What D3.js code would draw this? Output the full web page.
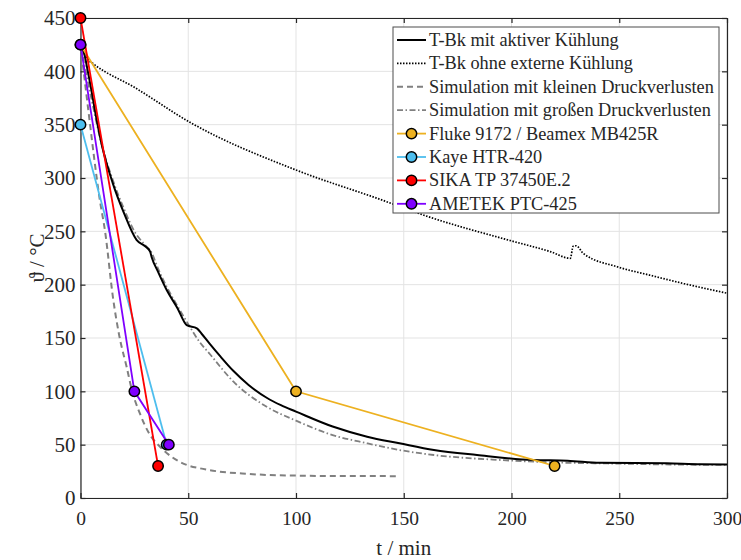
<!DOCTYPE html>
<html>
<head>
<meta charset="utf-8">
<script src="https://cdn.jsdelivr.net/npm/d3@7"></script>
<style>
  body { margin: 0; background: #fff; }
  svg text { font-family: "Liberation Serif", "DejaVu Serif", serif; fill: #262626; }
</style>
</head>
<body>
<svg id="chart" width="741" height="560"></svg>
<script>
// measured points (t in min, temperature in °C)
const flukeT = [0, 100, 220];
const flukeV = [425, 100, 30];
const kayeT = [0, 40];
const kayeV = [350, 50];
const sikaT = [0, 36];
const sikaV = [450, 30];
const ametekT = [0, 25, 41];
const ametekV = [425, 100, 50];

// T-Bk mit aktiver Kühlung
const activeT = [0, 1.5, 3.3, 5, 7, 10, 15, 20, 26, 30, 32.3, 33, 36, 40, 45, 49.3, 54, 56.2, 60, 65, 71, 78, 86.4, 93, 100, 117, 133, 148, 164, 184, 210, 226, 241, 272, 288, 300];
const activeV = [422, 418, 401, 383, 360, 330, 295, 268, 242, 236, 231, 226, 212, 195, 178, 162, 159, 154, 144.5, 132.5, 119, 106, 94, 87, 81, 67, 57.5, 51.3, 45, 40.3, 35.6, 35, 33, 32.5, 31.6, 31.5];

// T-Bk ohne externe Kühlung
const passiveT = [0, 3, 6, 25, 51, 100, 139, 161, 200, 218, 227.3, 228.6, 230, 233.3, 249, 264, 280, 300];
const passiveV = [424, 412, 407, 385, 352, 307.5, 280, 264, 241, 231, 224.7, 236, 236.5, 229.4, 216.8, 209, 201, 192];

// Simulation mit kleinen Druckverlusten
const simSmallT = [0, 3.6, 9, 11.4, 15.2, 18, 21.4, 24, 27.6, 32, 36.9, 42, 49.3, 55.5, 64.7, 75, 86.4, 100, 117, 148];
const simSmallV = [425, 364, 279, 250, 186, 152, 123, 100, 79, 60, 48, 39, 31, 27.8, 24.7, 23, 21.6, 21, 20.6, 20.5];

// Simulation mit großen Druckverlusten
const simLargeT = [0, 5, 10, 15, 20, 25, 30, 33, 36, 40, 45, 50, 55, 60, 71, 86, 100, 117, 133, 148, 164, 195, 226, 241, 270, 300];
const simLargeV = [425, 375, 330, 298, 272, 250, 237, 230, 215, 198, 180, 163, 147, 135, 109, 86, 72.5, 59, 51.3, 45, 40.3, 35.6, 33, 32.5, 31.5, 31];

const xTicks = [0, 50, 100, 150, 200, 250, 300];
const yTicks = [0, 50, 100, 150, 200, 250, 300, 350, 400, 450];

const legendLabels = [
  "T-Bk mit aktiver Kühlung",
  "T-Bk ohne externe Kühlung",
  "Simulation mit kleinen Druckverlusten",
  "Simulation mit großen Druckverlusten",
  "Fluke 9172 / Beamex MB425R",
  "Kaye HTR-420",
  "SIKA TP 37450E.2",
  "AMETEK PTC-425"
];

const svg = d3.select("#chart");
const margin = { left: 80.5, right: 14, top: 18, bottom: 62 };
const W = 741, H = 560;

const x = d3.scaleLinear().domain([0, 300]).range([margin.left, W - margin.right]);
const y = d3.scaleLinear().domain([0, 450]).range([H - margin.bottom, margin.top]);

const zip = (ts, vs) => ts.map((t, i) => [t, vs[i]]);

// grid
svg.append("g").selectAll("line").data(xTicks).join("line")
  .attr("x1", d => x(d)).attr("x2", d => x(d))
  .attr("y1", y(0)).attr("y2", y(450))
  .attr("stroke", "#e3e3e3").attr("stroke-width", 1);
svg.append("g").selectAll("line").data(yTicks).join("line")
  .attr("x1", x(0)).attr("x2", x(300))
  .attr("y1", d => y(d)).attr("y2", d => y(d))
  .attr("stroke", "#e3e3e3").attr("stroke-width", 1);

// axes (ticks inward, mirrored)
const tickLen = 5;
const axB = svg.append("g").attr("transform", `translate(0,${y(0)})`)
  .call(d3.axisBottom(x).tickValues(xTicks).tickSizeInner(-tickLen).tickSizeOuter(0).tickPadding(13));
const axT = svg.append("g").attr("transform", `translate(0,${y(450)})`)
  .call(d3.axisTop(x).tickValues(xTicks).tickSizeInner(-tickLen).tickSizeOuter(0).tickFormat(""));
const axL = svg.append("g").attr("transform", `translate(${x(0)},0)`)
  .call(d3.axisLeft(y).tickValues(yTicks).tickSizeInner(-tickLen).tickSizeOuter(0).tickPadding(5));
const axR = svg.append("g").attr("transform", `translate(${x(300)},0)`)
  .call(d3.axisRight(y).tickValues(yTicks).tickSizeInner(-tickLen).tickSizeOuter(0).tickFormat(""));
[axB, axT, axL, axR].forEach(g => {
  g.select(".domain").attr("stroke", "#262626").attr("stroke-width", 1.2);
  g.selectAll(".tick line").attr("stroke", "#262626").attr("stroke-width", 1.2);
  g.selectAll("text").attr("font-size", 20).attr("fill", "#262626");
});
axL.selectAll("text").attr("font-size", 21);
axB.selectAll("text").attr("font-size", 19.5);

// lines
const line = d3.line().x(d => x(d[0])).y(d => y(d[1]));
const smooth = d3.line().x(d => x(d[0])).y(d => y(d[1])).curve(d3.curveMonotoneX);

const plot = svg.append("g");
plot.append("path").datum(zip(simSmallT, simSmallV)).attr("d", smooth)
  .attr("fill", "none").attr("stroke", "#808080").attr("stroke-width", 2).attr("stroke-dasharray", "6 4");
plot.append("path").datum(zip(simLargeT, simLargeV)).attr("d", smooth)
  .attr("fill", "none").attr("stroke", "#808080").attr("stroke-width", 1.8).attr("stroke-dasharray", "6 2.5 1.5 2.5");
plot.append("path").datum(zip(passiveT, passiveV)).attr("d", smooth)
  .attr("fill", "none").attr("stroke", "#000").attr("stroke-width", 1.7).attr("stroke-dasharray", "1.5 1.5");
plot.append("path").datum(zip(activeT, activeV)).attr("d", smooth)
  .attr("fill", "none").attr("stroke", "#000").attr("stroke-width", 2);

const series = [
  { t: flukeT, v: flukeV, color: "#edb120" },
  { t: kayeT, v: kayeV, color: "#4dbeee" },
  { t: sikaT, v: sikaV, color: "#ff0000" },
  { t: ametekT, v: ametekV, color: "#7f00ff" }
];
series.forEach(s => {
  plot.append("path").datum(zip(s.t, s.v)).attr("d", line)
    .attr("fill", "none").attr("stroke", s.color).attr("stroke-width", 1.8);
});
series.forEach(s => {
  plot.append("g").selectAll("circle").data(zip(s.t, s.v)).join("circle")
    .attr("cx", d => x(d[0])).attr("cy", d => y(d[1])).attr("r", 5.2)
    .attr("fill", s.color).attr("stroke", "#000").attr("stroke-width", 1.5);
});

// axis labels
svg.append("text").attr("x", (x(0) + x(300)) / 2).attr("y", 555)
  .attr("text-anchor", "middle").attr("font-size", 21).text("t / min");
svg.append("text").attr("transform", `translate(44,${(y(0) + y(450)) / 2}) rotate(-90)`)
  .attr("text-anchor", "middle").attr("font-size", 21).text("ϑ / °C");

// legend
const lg = svg.append("g");
const lgX = 393, lgY = 27, lgW = 326, lgH = 186, rowH = 23.4;
lg.append("rect").attr("x", lgX).attr("y", lgY).attr("width", lgW).attr("height", lgH)
  .attr("fill", "#fff").attr("stroke", "#4d4d4d").attr("stroke-width", 1);
const lgStyles = [
  { color: "#000", w: 2, dash: null },
  { color: "#000", w: 1.7, dash: "1.5 1.5" },
  { color: "#808080", w: 2, dash: "6 4" },
  { color: "#808080", w: 1.8, dash: "6 2.5 1.5 2.5" },
  { color: "#edb120", w: 1.8, dash: null, marker: true },
  { color: "#4dbeee", w: 1.8, dash: null, marker: true },
  { color: "#ff0000", w: 1.8, dash: null, marker: true },
  { color: "#7f00ff", w: 1.8, dash: null, marker: true }
];
legendLabels.forEach((lab, i) => {
  const cy = lgY + 13 + i * rowH;
  const st = lgStyles[i];
  lg.append("line").attr("x1", lgX + 4).attr("x2", lgX + 33).attr("y1", cy).attr("y2", cy)
    .attr("stroke", st.color).attr("stroke-width", st.w).attr("stroke-dasharray", st.dash);
  if (st.marker) {
    lg.append("circle").attr("cx", lgX + 18.5).attr("cy", cy).attr("r", 5.2)
      .attr("fill", st.color).attr("stroke", "#000").attr("stroke-width", 1.5);
  }
  lg.append("text").attr("x", lgX + 36).attr("y", cy + 6).attr("font-size", 18.3).text(lab);
});
</script>
</body>
</html>
